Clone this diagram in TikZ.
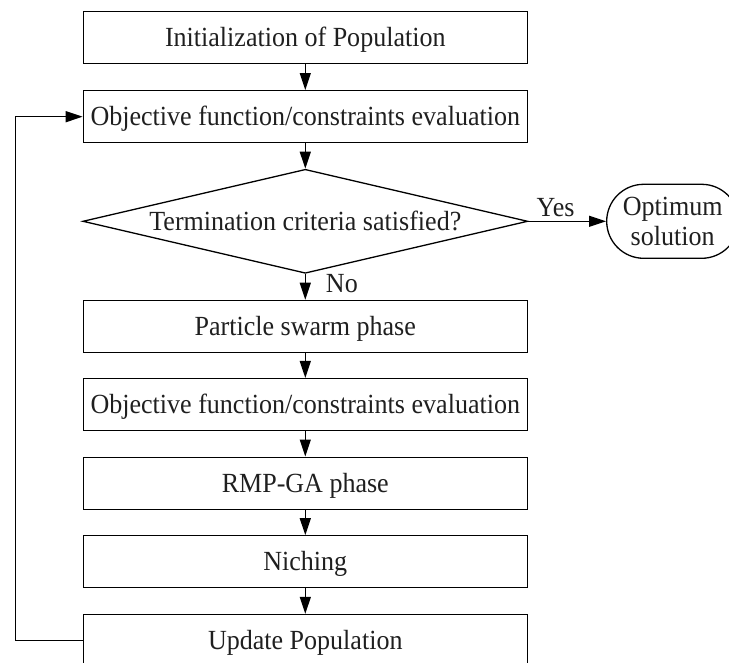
\documentclass[tikz,border=0pt]{standalone}
\usepackage{fontspec}
\setmainfont[FakeStretch=0.94]{Liberation Serif}
\usetikzlibrary{shapes.geometric,arrows.meta}
\begin{document}
\begin{tikzpicture}[x=1pt,y=-1pt,
  every node/.style={font=\fontsize{27.7}{30}\selectfont,text=black!88},
  procbox/.style={draw=black,line width=1.3pt,minimum width=444pt,minimum height=52pt,inner sep=0pt,text height=18pt,text depth=0pt},
  decbox/.style={draw=black,diamond,line width=1.3pt,minimum width=445pt,minimum height=104pt,inner sep=0pt},
  termbox/.style={draw=black,line width=1.3pt,rounded corners=37pt,minimum width=132pt,minimum height=74pt,inner sep=0pt,align=center},
  flow/.style={line width=1.3pt,-{Triangle[length=17pt,width=11pt]}}]
\useasboundingbox (0,0) rectangle (729,663);
\node[procbox] (init) at (305.3,37.8) {Initialization of Population};
\node[procbox] (eval1) at (305.3,116.7) {Objective function/constraints evaluation};
\node[decbox] (dec) at (305.3,221.3) {};
\node (dectext) at (305.3,221.3) {Termination criteria satisfied?};
\node[termbox] (opt) at (672.7,221.3) {Optimum\\solution};
\node[procbox] (pso) at (305.3,326.4) {Particle swarm phase};
\node[procbox] (eval2) at (305.3,404.6) {Objective function/constraints evaluation};
\node[procbox] (ga) at (305.3,483.2) {RMP-GA phase};
\node[procbox] (nich) at (305.3,561.8) {Niching};
\node[procbox] (upd) at (305.3,640.5) {Update Population};
\coordinate (lb) at (15.7,640.5);
\coordinate (lt) at (15.7,116.7);
\draw[flow] (init) -- (eval1);
\draw[flow] (eval1) -- (dec);
\draw[flow] (dec.east) -- (opt.west) node[pos=0.35,above,inner sep=3.5pt] {Yes};
\draw[flow] (dec.south) -- (pso.north) node[pos=0.37,right,xshift=20pt,inner sep=0pt] {No};
\draw[flow] (pso) -- (eval2);
\draw[flow] (eval2) -- (ga);
\draw[flow] (ga) -- (nich);
\draw[flow] (nich) -- (upd);
\draw[flow] (upd.west) -- (lb) -- (lt) -- (eval1.west);
\end{tikzpicture}
\end{document}
